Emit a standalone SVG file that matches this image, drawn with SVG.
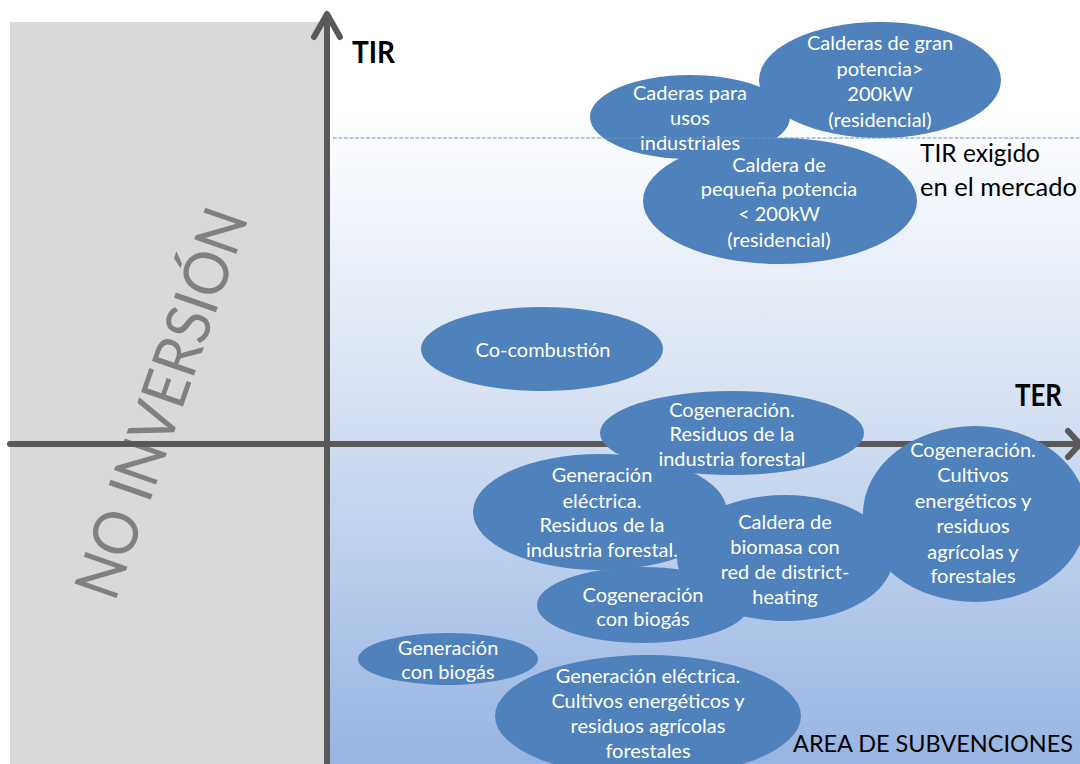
<svg xmlns="http://www.w3.org/2000/svg" width="1080" height="764" viewBox="0 0 1080 764">
  <defs>
    <linearGradient id="bgGrad" gradientUnits="userSpaceOnUse" x1="0" y1="110" x2="0" y2="764">
      <stop offset="0" stop-color="#ffffff"/>
      <stop offset="0.45" stop-color="#d6e1f3"/>
      <stop offset="1" stop-color="#97b4e2"/>
    </linearGradient>
    <style>
      .bubble { fill: #4f81bd; }
      .btxt { font-family: Lato, "Open Sans", "Liberation Sans", sans-serif; font-size: 20px; fill: #ffffff; text-anchor: middle; }
      .axis { stroke: #595959; stroke-width: 6; fill: none; stroke-linecap: round; stroke-linejoin: round; }
      .lbl { font-family: Lato, "Open Sans", "Liberation Sans", sans-serif; fill: #000000; }
      .axlbl { font-family: Lato, "Open Sans", "Liberation Sans", sans-serif; font-weight: bold; font-size: 30px; fill: #000000; }
    </style>
  </defs>

  <!-- background -->
  <rect x="0" y="0" width="1080" height="764" fill="#ffffff"/>
  <rect x="330" y="22" width="750" height="742" fill="url(#bgGrad)"/>
  <rect x="10" y="22" width="316" height="742" fill="#d9d9d9"/>

  <!-- no-investment zone label -->
  <text x="0" y="22" transform="translate(161 403) rotate(-70.8)" text-anchor="middle" font-family="Lato, 'Open Sans', 'Liberation Sans', sans-serif" font-size="62" fill="#808080" textLength="408" lengthAdjust="spacingAndGlyphs">NO INVERSIÓN</text>

  <!-- axes -->
  <g id="connectors">
    <line class="axis" x1="327" y1="764" x2="327" y2="15"/>
    <polyline class="axis" points="314,37 327,14 340,37"/>
    <line class="axis" x1="10" y1="444" x2="1078" y2="444" stroke-linecap="butt"/>
    <polyline class="axis" points="1068,431 1080,444 1068,457"/>
  </g>

  <g id="axis-labels">
    <text class="axlbl" x="352" y="63" textLength="43" lengthAdjust="spacingAndGlyphs">TIR</text>
    <text class="axlbl" x="1015" y="406" textLength="47" lengthAdjust="spacingAndGlyphs">TER</text>
  </g>

  <!-- nodes (ordered so that every label stays above neighbouring bubbles) -->
  <g id="calderas-gran">
    <ellipse class="bubble" cx="880" cy="80" rx="121" ry="58"/>
    <text class="btxt" x="880" y="50">Calderas de gran</text>
    <text class="btxt" x="880" y="76">potencia&gt;</text>
    <text class="btxt" x="880" y="101">200kW</text>
    <text class="btxt" x="880" y="127">(residencial)</text>
  </g>
  <g id="caldera-pequena">
    <ellipse class="bubble" cx="780" cy="201" rx="137" ry="63"/>
    <text class="btxt" x="779" y="172">Caldera de</text>
    <text class="btxt" x="779" y="196">pequeña potencia</text>
    <text class="btxt" x="779" y="221">&lt; 200kW</text>
    <text class="btxt" x="779" y="247">(residencial)</text>
  </g>
  <g id="caderas-industriales">
    <ellipse class="bubble" cx="690" cy="117" rx="100" ry="42"/>
    <text class="btxt" x="690" y="100">Caderas para</text>
    <text class="btxt" x="690" y="125">usos</text>
    <text class="btxt" x="690" y="150">industriales</text>
  </g>

  <!-- market required return line -->
  <line x1="333" y1="138" x2="1080" y2="138" stroke="#6a93cf" stroke-width="1.2" stroke-dasharray="4 1.5"/>
  <g id="tir-exigido">
    <text class="lbl" x="920" y="162" font-size="25" textLength="120" lengthAdjust="spacingAndGlyphs">TIR exigido</text>
    <text class="lbl" x="920" y="196" font-size="25" textLength="157" lengthAdjust="spacingAndGlyphs">en el mercado</text>
  </g>

  <g id="co-combustion">
    <ellipse class="bubble" cx="542" cy="349" rx="121" ry="42"/>
    <text class="btxt" x="543" y="357">Co-combustión</text>
  </g>
  <g id="generacion-residuos">
    <ellipse class="bubble" cx="600" cy="512" rx="127" ry="58"/>
    <text class="btxt" x="602" y="482">Generación</text>
    <text class="btxt" x="602" y="508">eléctrica.</text>
    <text class="btxt" x="602" y="532">Residuos de la</text>
    <text class="btxt" x="602" y="557">industria forestal.</text>
  </g>
  <g id="cogeneracion-residuos">
    <ellipse class="bubble" cx="732" cy="433" rx="132" ry="42"/>
    <text class="btxt" x="732" y="417">Cogeneración.</text>
    <text class="btxt" x="732" y="441">Residuos de la</text>
    <text class="btxt" x="732" y="466">industria forestal</text>
  </g>
  <g id="caldera-district">
    <ellipse class="bubble" cx="785" cy="558" rx="108" ry="63"/>
    <text class="btxt" x="785" y="529">Caldera de</text>
    <text class="btxt" x="785" y="554">biomasa con</text>
    <text class="btxt" x="785" y="579">red de district-</text>
    <text class="btxt" x="785" y="604">heating</text>
  </g>
  <g id="cogeneracion-biogas">
    <ellipse class="bubble" cx="643" cy="605" rx="106" ry="38"/>
    <text class="btxt" x="643" y="602">Cogeneración</text>
    <text class="btxt" x="643" y="626">con biogás</text>
  </g>
  <g id="cogeneracion-cultivos">
    <ellipse class="bubble" cx="975" cy="514" rx="112" ry="88"/>
    <text class="btxt" x="973" y="457">Cogeneración.</text>
    <text class="btxt" x="973" y="482">Cultivos</text>
    <text class="btxt" x="973" y="508">energéticos y</text>
    <text class="btxt" x="973" y="533">residuos</text>
    <text class="btxt" x="973" y="559">agrícolas y</text>
    <text class="btxt" x="973" y="583">forestales</text>
  </g>
  <g id="generacion-biogas">
    <ellipse class="bubble" cx="448" cy="659" rx="90" ry="26"/>
    <text class="btxt" x="448" y="655">Generación</text>
    <text class="btxt" x="448" y="679">con biogás</text>
  </g>
  <g id="generacion-cultivos">
    <ellipse class="bubble" cx="648" cy="716" rx="153" ry="61"/>
    <text class="btxt" x="648" y="683">Generación eléctrica.</text>
    <text class="btxt" x="648" y="708">Cultivos energéticos y</text>
    <text class="btxt" x="648" y="733">residuos agrícolas</text>
    <text class="btxt" x="648" y="758">forestales</text>
  </g>

  <g id="area-subvenciones">
    <text class="lbl" x="793" y="752" font-size="24" textLength="280" lengthAdjust="spacingAndGlyphs">AREA DE SUBVENCIONES</text>
  </g>
</svg>
